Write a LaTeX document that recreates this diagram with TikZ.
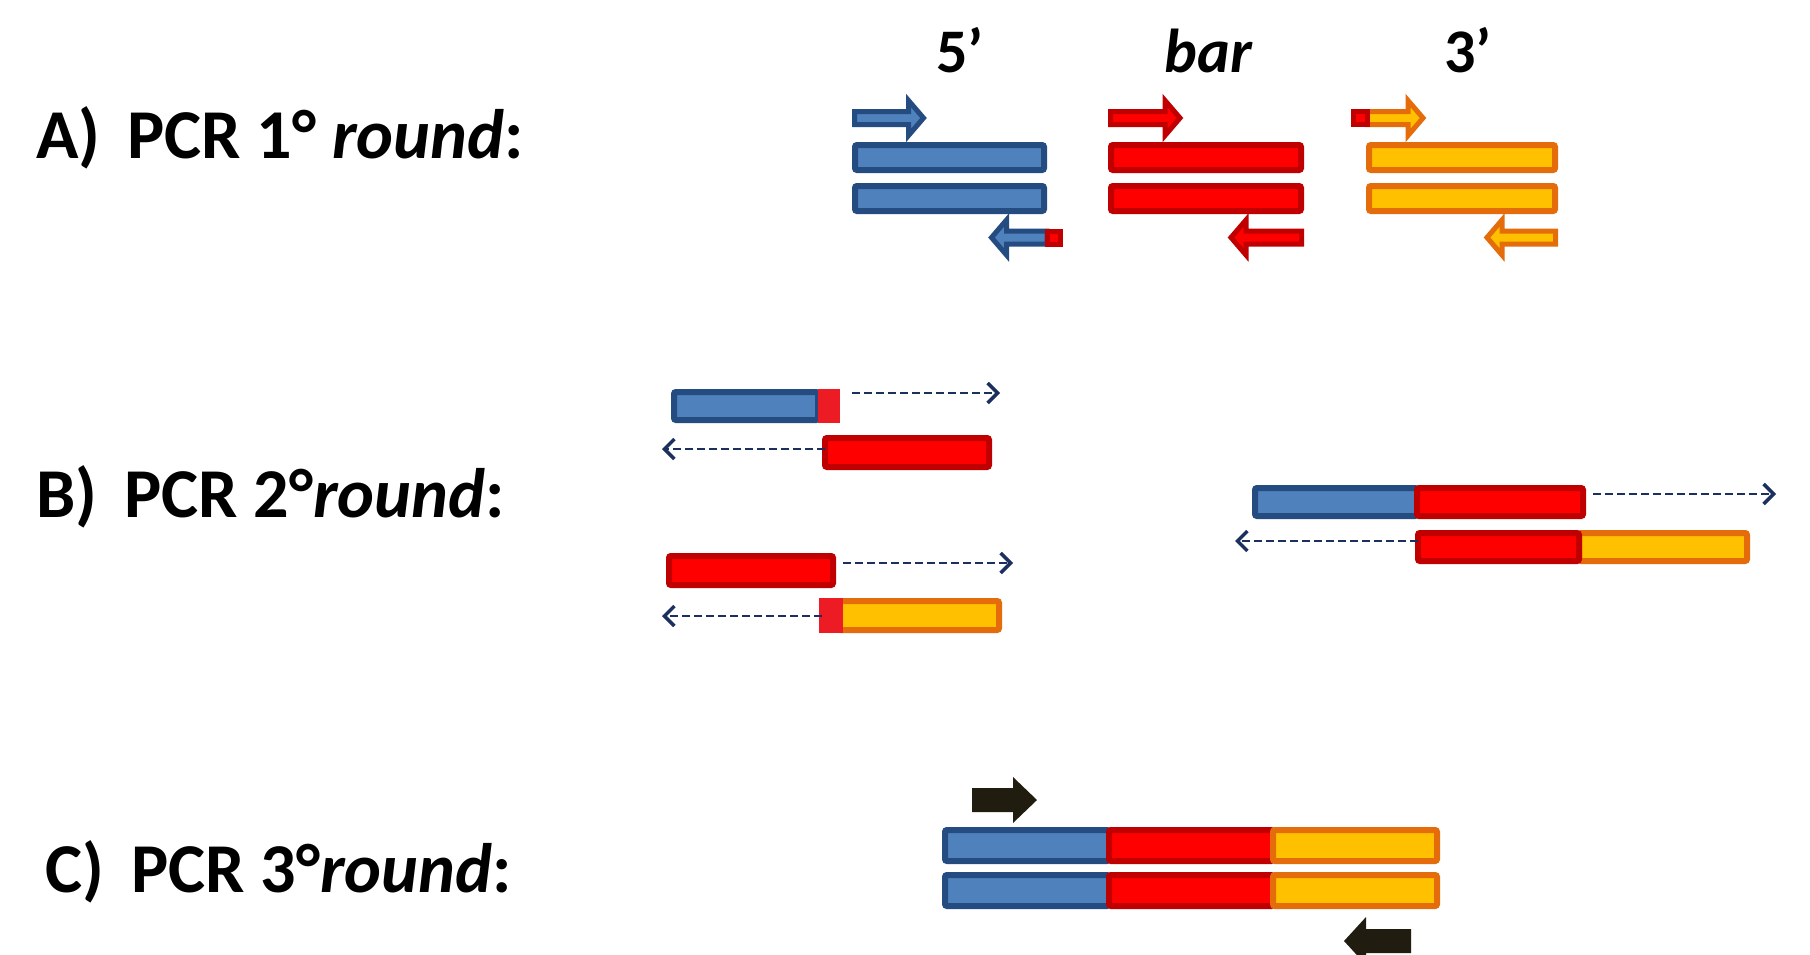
\documentclass[tikz,border=0pt]{standalone}
\usepackage{fontspec}
\setmainfont{Carlito}
\usetikzlibrary{arrows.meta}
\definecolor{blueF}{HTML}{4F81BD}
\definecolor{blueD}{HTML}{244C80}
\definecolor{redF}{HTML}{FF0000}
\definecolor{redD}{HTML}{C00000}
\definecolor{redS}{HTML}{ED1C24}
\definecolor{orF}{HTML}{FFC000}
\definecolor{orD}{HTML}{E46C0A}
\definecolor{blk}{HTML}{201D10}
\definecolor{dashc}{HTML}{1C3060}
\tikzset{
  seg/.style={line width=6pt, rounded corners=2pt, inner sep=0pt, outer sep=0pt, anchor=north west},
  bluebar/.style={seg, draw=blueD, fill=blueF},
  redbar/.style={seg, draw=redD, fill=redF},
  orbar/.style={seg, draw=orD, fill=orF},
  redsq/.style={seg, draw=redS, fill=redS, rounded corners=0pt},
  primer/.style={line width=5pt, line join=miter},
  bprimer/.style={primer, draw=blueD, fill=blueF},
  rprimer/.style={primer, draw=redD, fill=redF},
  oprimer/.style={primer, draw=orD, fill=orF},
  rblock/.style={line width=5pt, draw=redD, fill=redF},
  kprimer/.style={fill=blk},
  dasharr/.style={draw=dashc, line width=2.5pt, dash pattern=on 8pt off 4pt, -{Straight Barb[length=10pt,width=20pt,line width=3.5pt]}},
  lbl/.style={anchor=base west, inner sep=0pt, font=\fontsize{70}{80}\selectfont\bfseries},
  hdr/.style={anchor=base, inner sep=0pt, font=\fontsize{62}{70}\selectfont\bfseries},
}
% style, name, x1, y1, x2, y2 (visible outer extent)
\newcommand\seg[6]{\node[#1, minimum width={#5-#3-6}, minimum height={#6-#4-6}] (#2) at (#3+3,#4+3) {};}
% style, x0, xtip, yc, h, H, L
\newcommand\fwdarrow[7]{\path[#1] (#2,#4-#5) -- (#3-#7,#4-#5) -- (#3-#7,#4-#6) -- (#3,#4) -- (#3-#7,#4+#6) -- (#3-#7,#4+#5) -- (#2,#4+#5) -- cycle;}
% style, xtip, xend, yc, h, H, L
\newcommand\revarrow[7]{\path[#1] (#3,#4-#5) -- (#2+#7,#4-#5) -- (#2+#7,#4-#6) -- (#2,#4) -- (#2+#7,#4+#6) -- (#2+#7,#4+#5) -- (#3,#4+#5) -- cycle;}
\begin{document}
\begin{tikzpicture}[x=1pt,y=-1pt]
\useasboundingbox[fill=white] (0,0) rectangle (1810,954);
% labels
\node[lbl] (la) at (36,158) {A)\hspace{27pt}PCR 1° \textit{round}:};
\node[lbl] (lb) at (36,517) {B)\hspace{27pt}PCR 2°\textit{round}:};
\node[lbl] (lc) at (45,892) {C)\hspace{27pt}PCR 3°\textit{round}:};
\node[hdr] (h5) at (960,72) {5’};
\node[hdr] (hbar) at (1209,72) {\textit{bar}};
\node[hdr] (h3) at (1468,72) {3’};
% A) bars
\seg{bluebar}{a5u}{852}{142}{1047}{173}
\seg{bluebar}{a5l}{852}{183}{1047}{214}
\seg{redbar}{abu}{1108}{142}{1304}{173}
\seg{redbar}{abl}{1108}{183}{1304}{214}
\seg{orbar}{a3u}{1366}{142}{1558}{173}
\seg{orbar}{a3l}{1366}{183}{1558}{214}
% A) primers
\fwdarrow{bprimer}{854.5}{923.5}{118}{6.5}{17.5}{15}
\fwdarrow{rprimer}{1110.5}{1180}{118}{6.5}{17.5}{15}
\fwdarrow{oprimer}{1367}{1423}{118}{6.5}{17.5}{15}
\path[rblock] (1353.5,111.5) rectangle (1367,124.5);
\revarrow{bprimer}{991.5}{1047}{237.5}{6.5}{17.5}{15}
\path[rblock] (1047,231) rectangle (1060.5,244);
\revarrow{rprimer}{1231}{1301.5}{237.5}{6.5}{17.5}{15}
\revarrow{oprimer}{1487}{1555.5}{237.5}{6.5}{17.5}{15}
% B) left top pair
\seg{bluebar}{b1b}{671}{389}{821}{423}
\seg{redsq}{b1r}{818}{389}{840}{423}
\seg{redbar}{b2r}{822}{435}{992}{470}
\coordinate (d1s) at (852,393);
\coordinate (d1e) at (1000,393);
\draw[dasharr] (d1s) -- (d1e);
\coordinate (d2e) at (662,449);
\draw[dasharr] (b2r.west |- d2e) -- (d2e);
% B) left bottom pair
\seg{redbar}{b3r}{666}{553}{836}{588}
\seg{orbar}{b4o}{836}{598}{1002}{633}
\seg{redsq}{b4r}{819}{598}{843}{633}
\coordinate (d3s) at (843,563);
\coordinate (d3e) at (1013,563);
\draw[dasharr] (d3s) -- (d3e);
\coordinate (d4e) at (662,616);
\draw[dasharr] (b4r.west |- d4e) -- (d4e);
% B) right pair
\seg{bluebar}{b5b}{1252}{485}{1420}{519}
\seg{redbar}{b5r}{1414}{485}{1586}{519}
\seg{orbar}{b6o}{1576}{530}{1750}{564}
\seg{redbar}{b6r}{1415}{530}{1582}{564}
\coordinate (d5s) at (1593,494);
\coordinate (d5e) at (1776,494);
\draw[dasharr] (d5s) -- (d5e);
\coordinate (d6e) at (1235,541);
\draw[dasharr] (b6r.west |- d6e) -- (d6e);
% C) bars
\seg{bluebar}{c1b}{942}{827}{1112}{864}
\seg{redbar}{c1r}{1106}{827}{1276}{864}
\seg{orbar}{c1o}{1270}{827}{1440}{864}
\seg{bluebar}{c2b}{942}{872}{1112}{909}
\seg{redbar}{c2r}{1106}{872}{1276}{909}
\seg{orbar}{c2o}{1270}{872}{1440}{909}
% C) primers
\fwdarrow{kprimer}{972}{1037}{800}{12}{23}{24}
\revarrow{kprimer}{1344}{1411}{941}{12}{24}{22}
\end{tikzpicture}
\end{document}
